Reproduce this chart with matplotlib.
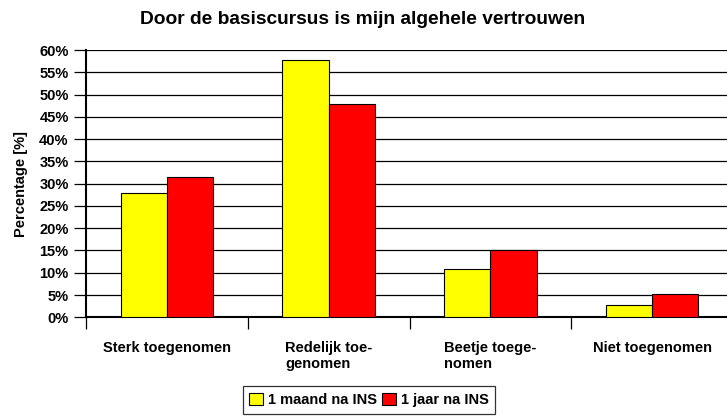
import matplotlib
matplotlib.use("Agg")
import matplotlib.pyplot as plt
import numpy as np

# data
categories = ["Sterk toegenomen", "Redelijk toe-\ngenomen", "Beetje toege-\nnomen", "Niet toegenomen"]
maand = [28.0, 57.8, 10.9, 2.7]
jaar = [31.5, 47.9, 15.0, 5.2]
series_names = ["1 maand na INS", "1 jaar na INS"]
yticks = list(range(0, 61, 5))

plt.rcParams['font.family'] = ['Liberation Sans', 'DejaVu Sans']
plt.rcParams['font.weight'] = 'bold'

fig = plt.figure(figsize=(7.27, 4.16), dpi=100)
ax = fig.add_axes([86 / 727, 98.7 / 416, 647 / 727, 267.3 / 416])

x = np.arange(len(categories))
w = 0.286
ax.bar(x - w / 2, maand, w, color='#FFFF00', edgecolor='black', linewidth=0.8, label=series_names[0], zorder=3)
ax.bar(x + w / 2, jaar, w, color='#FF0000', edgecolor='black', linewidth=0.8, label=series_names[1], zorder=3)

ax.set_xlim(-0.5, 3.5)
ax.set_ylim(0, 60)
ax.set_yticks(yticks)
ax.set_yticklabels([f"{v}%" for v in yticks], fontsize=10.5, fontweight='bold')
ax.yaxis.grid(True, color='black', linewidth=0.9, zorder=0)
ax.tick_params(axis='y', length=8.5, width=0.9, pad=4)

ax.set_xticks([-0.5, 0.5, 1.5, 2.5])
ax.set_xticklabels([])
ax.tick_params(axis='x', which='major', length=8.5, width=0.9, direction='out')
ax.set_xticks(x, minor=True)
ax.set_xticklabels(categories, minor=True, fontsize=10.5, fontweight='bold', multialignment='left')
ax.tick_params(axis='x', which='minor', length=0, pad=17)

for s in ['top', 'right']:
    ax.spines[s].set_visible(False)
ax.spines['left'].set_linewidth(1.5)
ax.spines['bottom'].set_linewidth(1.5)

ax.set_ylabel("Percentage [%]", fontsize=10.5, fontweight='bold', labelpad=8)
fig.text(363 / 727, 1 - 20 / 416, "Door de basiscursus is mijn algehele vertrouwen",
         ha='center', va='center', fontsize=13.8, fontweight='bold')

leg = fig.legend(loc='center', bbox_to_anchor=(369 / 727, 1 - 400 / 416), ncol=2,
                 frameon=True, fancybox=False, edgecolor='black', fontsize=10.5,
                 handlelength=0.9, handleheight=0.9, handletextpad=0.35, columnspacing=0.4,
                 borderpad=0.45, borderaxespad=0)
leg.get_frame().set_linewidth(0.9)
for t in leg.get_texts():
    t.set_fontweight('bold')

fig.savefig("out.png", dpi=100)
